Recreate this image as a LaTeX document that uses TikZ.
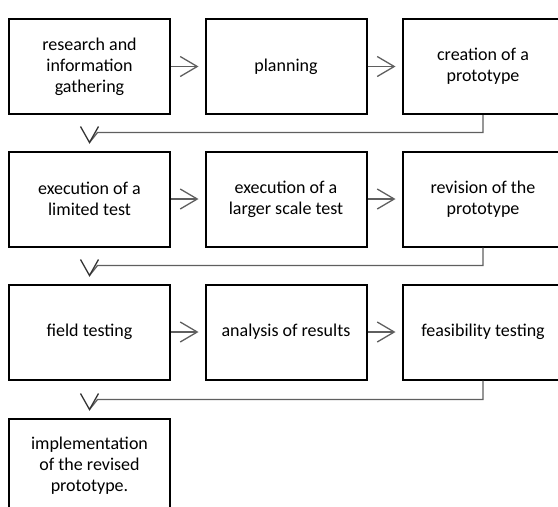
\documentclass[tikz,border=0pt]{standalone}
\usepackage{fontspec}
\setmainfont{Carlito}
\usetikzlibrary{arrows.meta,calc}
\definecolor{conn}{RGB}{95,95,95}
\tikzset{
  box/.style={draw=black,line width=2pt,fill=white,minimum width=161pt,minimum height=95pt,
    align=center,inner sep=0pt,font=\fontsize{18}{21}\selectfont,text=black},
  harrow/.style={draw=conn,line width=1.3pt,-{Straight Barb[length=17pt,width=20pt,line width=1.3pt]},shorten >=6pt},
  downline/.style={draw=conn,line width=1.3pt},
  vhead/.style={draw=black!80,line width=1.3pt,line join=miter}
}
\begin{document}
\begin{tikzpicture}[x=1pt,y=-1pt]
\useasboundingbox (0,0) rectangle (558,507);
\clip (0,0) rectangle (558,507);
\node[box] (b1) at (89.5,66.5) {research and\\information\\gathering};
\node[box] (b2) at (286,66.5) {planning};
\node[box] (b3) at (483,66.5) {creation of a\\prototype};
\node[box] (b4) at (89.5,199) {execution of a\\limited test};
\node[box] (b5) at (286,199) {execution of a\\larger scale test};
\node[box] (b6) at (483,199) {revision of the\\prototype};
\node[box] (b7) at (89.5,332) {field testing};
\node[box] (b8) at (286,332) {analysis of results};
\node[box] (b9) at (483,332) {feasibility testing};
\node[box] (b10) at (89.5,466) {implementation\\of the revised\\prototype.};
% horizontal arrows
\draw[harrow] (b1.east) -- (b2.west);
\draw[harrow] (b2.east) -- (b3.west);
\draw[harrow] (b4.east) -- (b5.west);
\draw[harrow] (b5.east) -- (b6.west);
\draw[harrow] (b7.east) -- (b8.west);
\draw[harrow] (b8.east) -- (b9.west);
% down connectors
\coordinate (t1) at ($(b4.north)+(0,-8)$);
\coordinate (t2) at ($(b7.north)+(0,-8)$);
\coordinate (t3) at ($(b10.north)+(0,-8)$);
\draw[downline] (b3.south) |- ($(t1)+(8,-10)$) -- (t1);
\draw[downline] (b6.south) |- ($(t2)+(8,-10)$) -- (t2);
\draw[downline] (b9.south) |- ($(t3)+(8,-10)$) -- (t3);
\draw[vhead] ($(t1)+(-9,-16)$) -- (t1) -- ($(t1)+(9,-16)$);
\draw[vhead] ($(t2)+(-9,-16)$) -- (t2) -- ($(t2)+(9,-16)$);
\draw[vhead] ($(t3)+(-9,-16)$) -- (t3) -- ($(t3)+(9,-16)$);
\end{tikzpicture}
\end{document}
